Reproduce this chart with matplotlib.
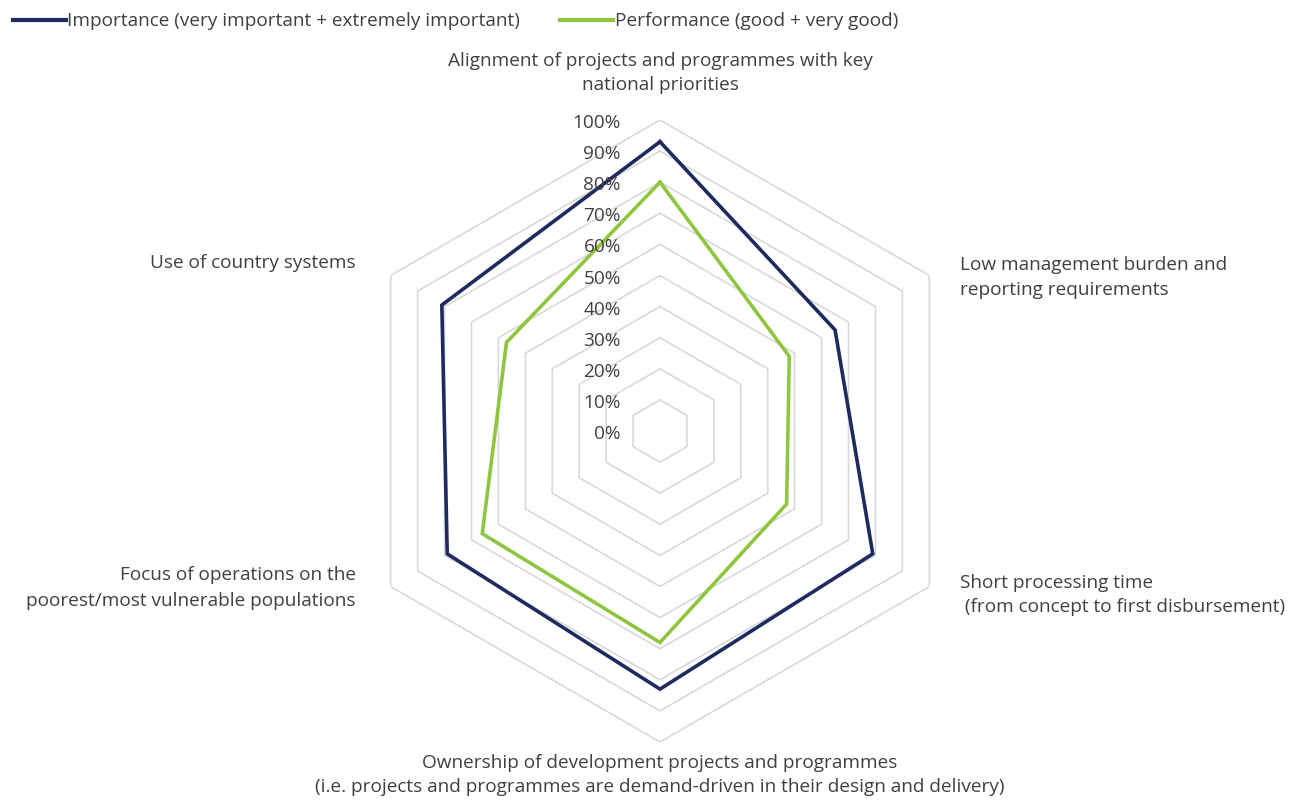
import numpy as np
import matplotlib

matplotlib.use("Agg", force=True)
import matplotlib.pyplot as plt
import matplotlib.transforms as mtransforms
from matplotlib.lines import Line2D

# data (percent), clockwise from top
categories = [
    "Alignment of projects and programmes with key\nnational priorities",
    "Low management burden and\nreporting requirements",
    "Short processing time\n (from concept to first disbursement)",
    "Ownership of development projects and programmes\n(i.e. projects and programmes are demand-driven in their design and delivery)",
    "Focus of operations on the\npoorest/most vulnerable populations",
    "Use of country systems",
]
importance = [93, 65, 79, 83, 79, 81]
performance = [80, 48, 47, 68, 66, 57]
ring_values = [10, 20, 30, 40, 50, 60, 70, 80, 90, 100]
ring_labels = ["0%", "10%", "20%", "30%", "40%", "50%", "60%", "70%", "80%", "90%", "100%"]
series_labels = [
    "Importance (very important + extremely important)",
    "Performance (good + very good)",
]

imp_color = "#1f2a5e"
perf_color = "#8fc640"
grid_color = "#d9d9d9"
text_color = "#404040"

plt.rcParams["font.family"] = ["Open Sans", "DejaVu Sans"]

W, H = 1298, 800
fig = plt.figure(figsize=(W / 100, H / 100), dpi=100)

cx, cy, R = 660, 431, 311
ax = fig.add_axes([(cx - R) / W, (H - cy - R) / H, 2 * R / W, 2 * R / H], projection="polar")
ax.set_theta_offset(np.pi / 2)
ax.set_theta_direction(-1)
ax.set_ylim(0, 100)
ax.axis("off")

n = len(categories)
theta = np.linspace(0, 2 * np.pi, n, endpoint=False)
theta_c = np.append(theta, theta[0])

for v in ring_values:
    ax.plot(theta_c, [v] * (n + 1), color=grid_color, linewidth=1.2, zorder=1)

ax.plot(theta_c, importance + importance[:1], color=imp_color, linewidth=2.6, zorder=3,
        solid_joinstyle="miter")
ax.plot(theta_c, performance + performance[:1], color=perf_color, linewidth=2.6, zorder=3,
        solid_joinstyle="miter")

fs = 13.7

# radial value labels along the top spoke
lab_tr = mtransforms.offset_copy(ax.transData, fig=fig, x=-39 * 0.72, y=-3 * 0.72, units="points")
for i, lab in enumerate(ring_labels):
    ax.text(0, i * 10, lab, transform=lab_tr, ha="right", va="center",
            fontsize=fs, color=text_color, zorder=4)


def fx(px):
    return px / W


def fy(py):
    return 1 - py / H


ls = 1.5
fig.text(fx(660), fy(73), categories[0], ha="center", va="center", fontsize=fs,
         color=text_color, linespacing=ls)
fig.text(fx(960), fy(278), categories[1], ha="left", va="center", fontsize=fs,
         color=text_color, linespacing=ls)
fig.text(fx(960), fy(595), categories[2], ha="left", va="center", fontsize=fs,
         color=text_color, linespacing=ls)
fig.text(fx(660), fy(775), categories[3], ha="center", va="center", fontsize=fs,
         color=text_color, linespacing=ls)
fig.text(fx(356), fy(588), categories[4], ha="right", va="center", fontsize=fs,
         color=text_color, linespacing=ls, multialignment="right")
fig.text(fx(356), fy(263), categories[5], ha="right", va="center", fontsize=fs,
         color=text_color)

handles = [
    Line2D([], [], color=imp_color, linewidth=3),
    Line2D([], [], color=perf_color, linewidth=3),
]
fig.legend(handles, series_labels, loc="upper left", bbox_to_anchor=(-0.003, 1.006),
           ncol=2, frameon=False, fontsize=fs, handlelength=2.75, handletextpad=0.1,
           columnspacing=2.1, labelcolor=text_color)

fig.savefig("out.png", dpi=100)
